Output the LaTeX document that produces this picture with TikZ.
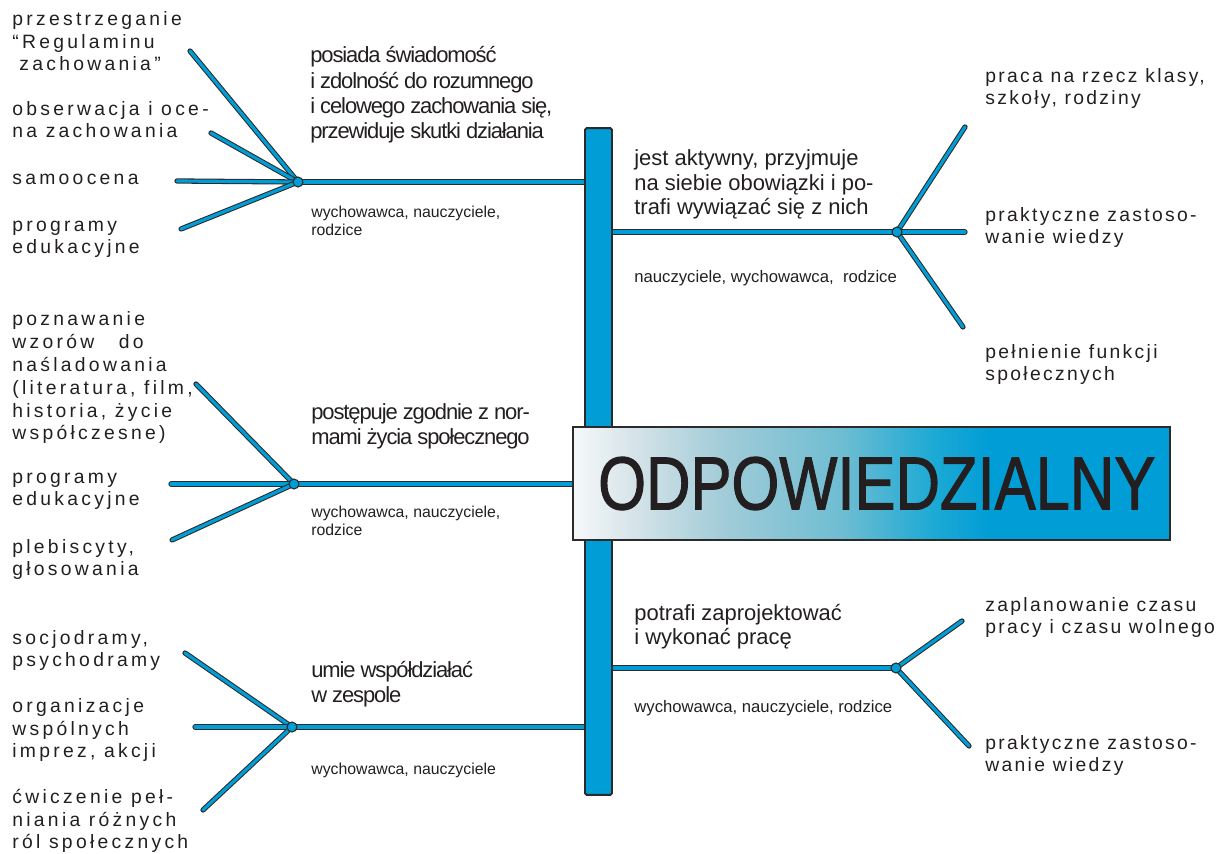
\documentclass[tikz,border=0pt]{standalone}
\usepackage{fontspec}
\setmainfont{Liberation Sans}
\newfontfamily\spacedfont[LetterSpace=17]{Liberation Sans}
\newfontfamily\spacedrfont[LetterSpace=12]{Liberation Sans}
\newfontfamily\narrowfont[LetterSpace=-5]{Liberation Sans}
\newfontfamily\titlefont[FakeBold=1.6]{Liberation Sans}
\usepackage{graphicx}
\usetikzlibrary{backgrounds}

\definecolor{lineblue}{HTML}{009DD6}
\definecolor{linegray}{HTML}{2B2B2B}
\definecolor{textgray}{HTML}{231F20}
\definecolor{shadeA}{HTML}{F6F8F9}
\definecolor{shadeB}{HTML}{D6E4E9}
\definecolor{shadeC}{HTML}{A2CCD8}
\definecolor{shadeD}{HTML}{6EBDD2}
\definecolor{shadeE}{HTML}{1EAAD5}
\pgfdeclarehorizontalshading{titleshade}{100bp}{color(0bp)=(shadeA); color(25bp)=(shadeA); color(30bp)=(shadeB); color(37.5bp)=(shadeC); color(47.5bp)=(shadeD); color(55bp)=(shadeE); color(60bp)=(lineblue); color(100bp)=(lineblue)}

\tikzset{
  twig/.style={draw=linegray, line width=0.6pt, double=lineblue, double distance=1.8pt, line cap=round},
  hubdot/.style={circle, fill=lineblue, draw=linegray, line width=0.6pt, inner sep=0pt, minimum size=0.2cm},
  leaf/.style={anchor=base west, align=left, inner sep=0pt, text=textgray, font=\spacedfont\fontsize{11}{13}\selectfont},
  leafr/.style={leaf, font=\spacedrfont\fontsize{11}{13}\selectfont},
  theme/.style={anchor=base west, align=left, inner sep=0pt, text=textgray, font=\narrowfont\fontsize{12.5}{14.5}\selectfont},
  themer/.style={theme, font=\fontsize{12.5}{14}\selectfont},
  who/.style={anchor=base west, align=left, inner sep=0pt, text=textgray, font=\fontsize{9}{10.3}\selectfont},
  whor/.style={who, font=\fontsize{9.5}{11}\selectfont},
}

\begin{document}
\begin{tikzpicture}[x=0.02cm, y=-0.02cm]
\useasboundingbox (0,0) rectangle (1232,854);

\node[rectangle, fill=lineblue, draw=linegray, line width=1.1pt, rounded corners=1pt,
  minimum width=0.54cm, minimum height=13.34cm, inner sep=0pt] (spine) at (598.5,461.5) {};
\node[rectangle, draw=linegray, line width=1.1pt, shading=titleshade, text=textgray,
  minimum width=11.94cm, minimum height=2.26cm, inner sep=0pt,
  font=\titlefont\fontsize{42.7}{44}\selectfont] (title) at (871.5,483.5) {\hspace{6pt}\scalebox{0.82}[1]{ODPOWIEDZIALNY}};

% hubs
\node[hubdot] (h1) at (298,182) {};
\node[hubdot] (h2) at (897,232) {};
\node[hubdot] (h3) at (294,484) {};
\node[hubdot] (h4) at (292,727) {};
\node[hubdot] (h5) at (896,668) {};

\coordinate (a1) at (190,51);
\coordinate (a2) at (211,133);
\coordinate (a3) at (177,181);
\coordinate (a4) at (181,229);
\coordinate (b1) at (965,127);
\coordinate (b2) at (965,232);
\coordinate (b3) at (963,327);
\coordinate (c1) at (196,384);
\coordinate (c2) at (171,484);
\coordinate (c3) at (172,540);
\coordinate (d1) at (185,653);
\coordinate (d2) at (195,727);
\coordinate (d3) at (203,810);
\coordinate (e1) at (962,621);
\coordinate (e2) at (969,746);

\begin{scope}[on background layer]
\draw[twig] (h1.center) -- (h1 -| spine.center);
\draw[twig] (h2.center) -- (h2 -| spine.center);
\draw[twig] (h3.center) -- (h3 -| spine.center);
\draw[twig] (h4.center) -- (h4 -| spine.center);
\draw[twig] (h5.center) -- (h5 -| spine.center);
\foreach \e in {a1,a2,a3,a4} \draw[twig] (h1.center) -- (\e);
\foreach \e in {b1,b2,b3} \draw[twig] (h2.center) -- (\e);
\foreach \e in {c1,c2,c3} \draw[twig] (h3.center) -- (\e);
\foreach \e in {d1,d2,d3} \draw[twig] (h4.center) -- (\e);
\foreach \e in {e1,e2} \draw[twig] (h5.center) -- (\e);
\end{scope}

% branch texts (anchored at the last line)
\node[theme] (t1) at (310,139) {posiada świadomość\\i zdolność do rozumnego\\i celowego zachowania się,\\przewiduje skutki działania};
\node[who] (w1) at (311,236) {wychowawca, nauczyciele,\\rodzice};
\node[themer] (t2) at (634,215) {jest aktywny, przyjmuje\\na siebie obowiązki i po-\\trafi wywiązać się z nich};
\node[whor] (w2) at (634,283) {nauczyciele, wychowawca,\ \ rodzice};
\node[theme] (t3) at (311,445) {postępuje zgodnie z nor-\\mami życia społecznego};
\node[who] (w3) at (311,536) {wychowawca, nauczyciele,\\rodzice};
\node[theme] (t4) at (311,703) {umie współdziałać\\w zespole};
\node[who] (w4) at (311,775) {wychowawca, nauczyciele};
\node[themer] (t5) at (634,645) {potrafi zaprojektować\\i wykonać pracę};
\node[whor] (w5) at (634,713) {wychowawca, nauczyciele, rodzice};

% leaves
\node[leaf] (la1) at (12,71) {przestrzeganie\\“Regulaminu\\\hspace*{4pt}zachowania”};
\node[leaf] (la2) at (12,138) {obserwacja i oce-\\na zachowania};
\node[leaf] (la3) at (12,185) {samoocena};
\node[leaf] (la4) at (12,254) {programy\\edukacyjne};
\node[leafr] (lb1) at (985,105) {praca na rzecz klasy,\\szkoły, rodziny};
\node[leafr] (lb2) at (985,244) {praktyczne zastoso-\\wanie wiedzy};
\node[leafr] (lb3) at (985,381) {pełnienie funkcji\\społecznych};
\node[leaf] (lc1) at (12,440) {poznawanie\\wzorów\hspace{14pt}do\\naśladowania\\(literatura, film,\\historia, życie\\współczesne)};
\node[leaf] (lc2) at (12,506) {programy\\edukacyjne};
\node[leaf] (lc3) at (12,576) {plebiscyty,\\głosowania};
\node[leaf] (ld1) at (12,667) {socjodramy,\\psychodramy};
\node[leaf] (ld2) at (12,758) {organizacje\\wspólnych\\imprez, akcji};
\node[leaf] (ld3) at (12,849) {ćwiczenie peł-\\niania różnych\\ról społecznych};
\node[leafr] (le1) at (985,634) {zaplanowanie czasu\\pracy i czasu wolnego};
\node[leafr] (le2) at (985,772) {praktyczne zastoso-\\wanie wiedzy};
\end{tikzpicture}
\end{document}
